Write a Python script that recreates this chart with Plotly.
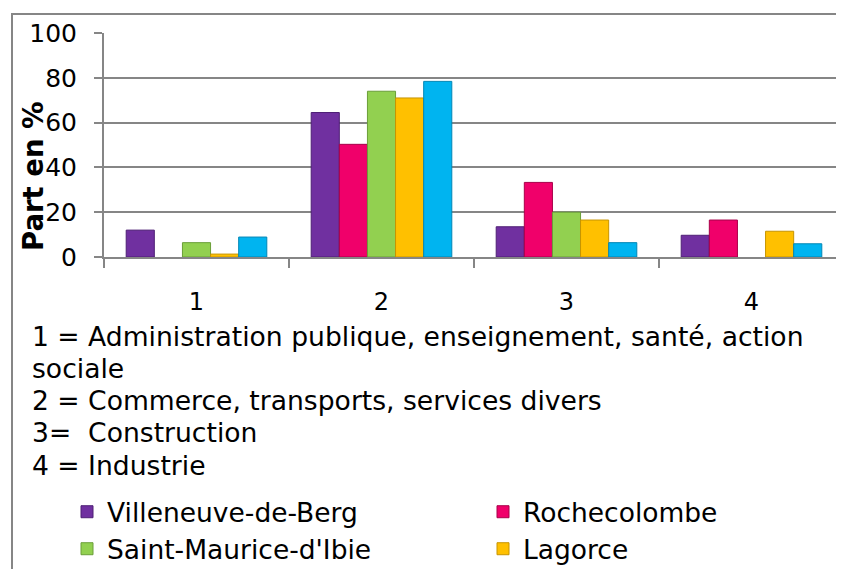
import plotly.graph_objects as go

# categories and values (Part en %)
categories = ["1", "2", "3", "4"]
villeneuve = [12, 64.5, 13.5, 9.7]
rochecolombe = [None, 50.3, 33.3, 16.5]
saint_maurice = [6.4, 74, 20, None]
lagorce = [1.3, 71, 16.5, 11.5]
ardeche = [8.9, 78.4, 6.4, 5.9]

series_names = ["Villeneuve-de-Berg", "Rochecolombe", "Saint-Maurice-d'Ibie", "Lagorce", "Ardèche"]
series_values = [villeneuve, rochecolombe, saint_maurice, lagorce, ardeche]
series_colors = ["#7030A0", "#F0006A", "#92D050", "#FFC000", "#00B4F0"]
series_lines = ["#4E1F75", "#A8004A", "#6A9E38", "#C79400", "#0086B5"]
# legend row of each series; the third row falls below the visible frame in the source
series_legend = ["legend", "legend", "legend2", "legend2", None]

notes = [
    "1 = Administration publique, enseignement, santé, action",
    "sociale",
    "2 = Commerce, transports, services divers",
    "3=  Construction",
    "4 = Industrie",
]

# page has an 8px body margin, so the figure is drawn 8px in from the corner
OFF = 8
W, H = 844 - OFF, 569 - OFF
L, T = 104 - OFF, 33 - OFF
PW, PH = W - L, 257 - 33
B = H - T - PH


def px_x(x):
    # x in screen pixels -> paper
    return (x - OFF - L) / PW


def px_y(y):
    # y in screen pixels -> paper
    return (T + PH - (y - OFF)) / PH


FONT = "DejaVu Sans, Verdana, sans-serif"

fig = go.Figure()
for name, vals, col, lc, leg in zip(series_names, series_values, series_colors,
                                     series_lines, series_legend):
    fig.add_trace(go.Bar(
        x=categories, y=vals, name=name,
        showlegend=leg is not None, legend=leg or "legend",
        marker=dict(color=col, line=dict(color=lc, width=1)),
    ))

annotations = [
    dict(text=t, x=px_x(30), y=px_y(336 + 32.3 * i), xref="paper", yref="paper",
         xanchor="left", yanchor="middle", showarrow=False,
         font=dict(family=FONT, size=26.6, color="black"))
    for i, t in enumerate(notes)
]
annotations.append(dict(
    text="<b>Part en %</b>", x=px_x(33), y=px_y(176), xref="paper", yref="paper",
    xanchor="center", yanchor="middle", textangle=-90, showarrow=False,
    font=dict(family=FONT, size=27.5, color="black")))

legend_style = dict(
    orientation="h", x=px_x(67), xanchor="left", yanchor="middle",
    entrywidth=371, entrywidthmode="pixels",
    font=dict(family=FONT, size=26.5, color="black"),
    itemwidth=30, tracegroupgap=0, bgcolor="rgba(0,0,0,0)",
)

fig.update_layout(
    width=W, height=H,
    margin=dict(l=L, r=0, t=T, b=B, autoexpand=False),
    paper_bgcolor="white", plot_bgcolor="white",
    barmode="group", bargap=0.24, bargroupgap=0,
    font=dict(family=FONT, size=24, color="black"),
    showlegend=True,
    legend=dict(legend_style, y=px_y(512)),
    legend2=dict(legend_style, y=px_y(549)),
    annotations=annotations,
    shapes=[
        dict(type="path", xref="paper", yref="paper",
             path=f"M {px_x(12)},{px_y(580)} L {px_x(12)},{px_y(14)} L {px_x(860)},{px_y(14)}",
             line=dict(color="#868686", width=2)),
    ],
)

fig.update_xaxes(
    showline=True, linecolor="#868686", linewidth=2,
    ticks="outside", tickson="boundaries", ticklen=9, tickcolor="#868686", tickwidth=2,
    showgrid=False, tickfont=dict(size=24), ticklabelstandoff=22,
)
fig.update_yaxes(
    range=[0, 100], dtick=20, showline=True, linecolor="#868686", linewidth=2,
    ticks="outside", ticklen=8, tickcolor="#868686", tickwidth=2,
    showgrid=True, gridcolor="#868686", gridwidth=1.5,
    tickfont=dict(size=25), ticklabelstandoff=12, zeroline=False,
)

fig.write_html("out.html")
